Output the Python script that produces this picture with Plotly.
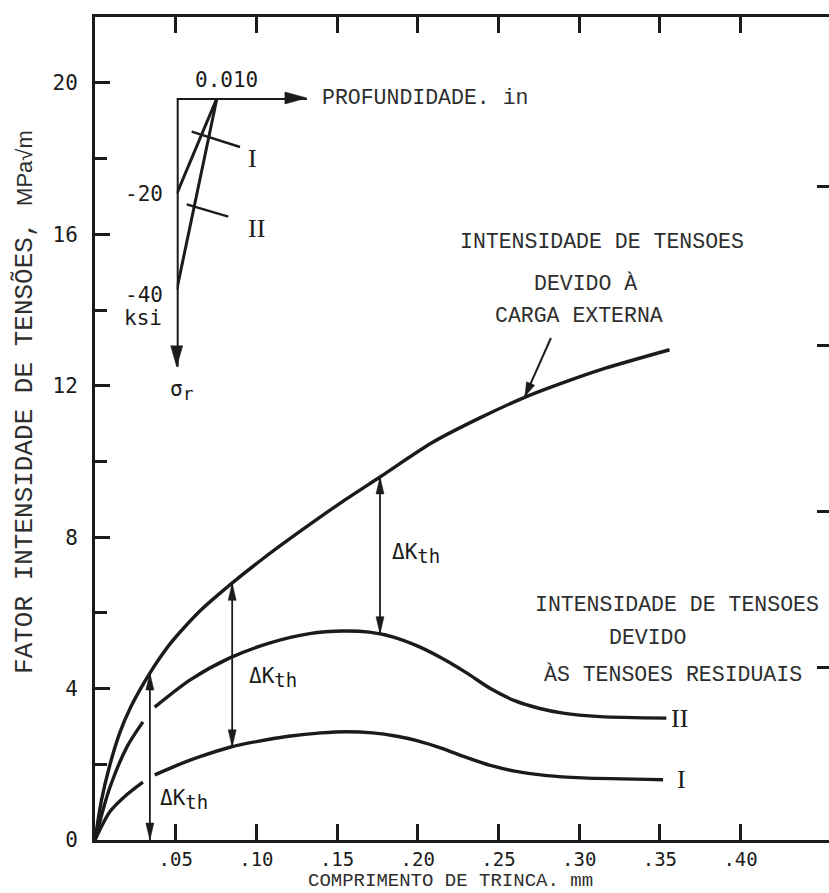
import plotly.graph_objects as go

# ---------------- data ----------------
# K due to the external load vs crack length (mm)
ext_x = [0, 0.004, 0.009, 0.0155, 0.022, 0.028, 0.034, 0.040, 0.0465, 0.055, 0.065, 0.0836,
         0.104, 0.127, 0.152, 0.1766, 0.209, 0.2385, 0.2677, 0.288, 0.313, 0.356]
ext_k = [0, 1.05, 1.95, 2.85, 3.5, 3.98, 4.41, 4.8, 5.18, 5.6, 6.05, 6.74,
         7.43, 8.15, 8.9, 9.59, 10.5, 11.15, 11.72, 12.05, 12.42, 12.95]

# K due to residual stresses, profile II (gap where the dimension arrow crosses)
res2_x = [0, 0.005, 0.0093, 0.0198, 0.0297, None, 0.037, 0.059, 0.0836, 0.108, 0.133,
          0.154, 0.17, 0.185, 0.2, 0.215, 0.23, 0.245, 0.26, 0.275, 0.29, 0.313, 0.354]
res2_k = [0, 0.8, 1.4, 2.46, 3.12, None, 3.51, 4.23, 4.81, 5.2, 5.45,
          5.52, 5.49, 5.36, 5.12, 4.8, 4.42, 4.0, 3.68, 3.48, 3.35, 3.26, 3.22]

# K due to residual stresses, profile I
res1_x = [0, 0.0093, 0.0198, 0.0297, None, 0.037, 0.05, 0.065, 0.0836, 0.1, 0.12, 0.14,
          0.156, 0.172, 0.187, 0.2, 0.215, 0.23, 0.245, 0.26, 0.28, 0.302, 0.352]
res1_k = [0, 0.75, 1.2, 1.53, None, 1.72, 1.96, 2.2, 2.45, 2.6, 2.74, 2.83,
          2.86, 2.83, 2.74, 2.62, 2.42, 2.18, 1.97, 1.82, 1.7, 1.64, 1.59]

# Delta K_th dimension arrows
dk_x = [0.034, 0.085, 0.1766]
dk_upper = [4.41, 6.78, 9.59]
dk_lower = [0.0, 2.46, 5.45]
dk_label_x = [0.039, 0.094, 0.1828]
dk_label_y = [1.06, 4.3, 7.58]

# inset: residual stress profiles (depth in inches, sigma_r in ksi)
depth_in = [0.0, 0.010]
sigma_I = [-20, 0]
sigma_II = [-40, 0]
inset_depth_end = 0.0323
inset_sigma_end = -56.0

# axis ticks
x_ticks = [0.05, 0.10, 0.15, 0.20, 0.25, 0.30, 0.35, 0.40]
x_ticktext = [".05", ".10", ".15", ".20", ".25", ".30", ".35", ".40"]
y_right_ticks = [4.57, 8.67, 13.05, 17.25]

# text
ext_lines = ["INTENSIDADE DE TENSOES", "DEVIDO À", "CARGA EXTERNA"]
ext_lines_x = [0.3141, 0.3042, 0.2998]
ext_lines_y = [15.80, 14.71, 13.84]
res_lines = ["INTENSIDADE DE TENSOES", "DEVIDO", "ÀS TENSOES RESIDUAIS"]
res_lines_x = [0.3606, 0.3426, 0.3581]
res_lines_y = [6.21, 5.34, 4.36]
ext_pointer = dict(tail=(0.2825, 13.26), tip=(0.2664, 11.72))

# ---------------- geometry ----------------
W, H = 829, 893
L, R, T, B = 95, 0, 17, 53
PW, PH = W - L - R, H - T - B
X_RANGE = [0, 0.4548]
Y_RANGE = [0, 21.74]
SX = PW / (X_RANGE[1] - X_RANGE[0])
SY = PH / (Y_RANGE[1] - Y_RANGE[0])

# inset axes placement (pixels) and scale
IN_X0, IN_X1 = 176.7, 330.0
IN_Y0, IN_Y1 = 98.0, 380.0
ISX = 4030.0      # px per inch
ISY = 4.8         # px per ksi
IN_D_RANGE = [0, (IN_X1 - IN_X0) / ISX]
IN_S_RANGE = [-(IN_Y1 - IN_Y0) / ISY, 0]

INK = "#1b1b1b"
TXT = "#2e2e2e"
MONO = "Liberation Mono"
TICKF = "DejaVu Sans Mono"
SERIF = "Liberation Serif"


def main_px(x, y):
    return L + (x - X_RANGE[0]) * SX, T + (Y_RANGE[1] - y) * SY


def inset_px(d, s):
    return IN_X0 + (d - IN_D_RANGE[0]) * ISX, IN_Y0 + (IN_S_RANGE[1] - s) * ISY


def to_paper(px, py):
    return (px - L) / PW, (T + PH - py) / PH


def head_shape(tip_px, from_px, length, half):
    tx, ty = tip_px
    fx, fy = from_px
    dx, dy = tx - fx, ty - fy
    n = (dx * dx + dy * dy) ** 0.5
    ux, uy = dx / n, dy / n
    bx, by = tx - ux * length, ty - uy * length
    pts = [(tx, ty), (bx - uy * half, by + ux * half), (bx + uy * half, by - ux * half)]
    pp = [to_paper(*p) for p in pts]
    path = "M{},{} L{},{} L{},{} Z".format(pp[0][0], pp[0][1], pp[1][0], pp[1][1], pp[2][0], pp[2][1])
    return dict(type="path", path=path, xref="paper", yref="paper",
                fillcolor=INK, line=dict(color=INK, width=0.5))


fig = go.Figure()

curve_style = dict(mode="lines", line=dict(color=INK, width=3.4, shape="spline", smoothing=0.8),
                   hoverinfo="skip", showlegend=False)
fig.add_trace(go.Scatter(x=ext_x, y=ext_k, **curve_style))
fig.add_trace(go.Scatter(x=res2_x, y=res2_k, **curve_style))
fig.add_trace(go.Scatter(x=res1_x, y=res1_k, **curve_style))

# placeholder so the right-hand tick axis is drawn
fig.add_trace(go.Scatter(x=[None], y=[None], yaxis="y2", showlegend=False, hoverinfo="skip"))

# inset stress profiles
fig.add_trace(go.Scatter(x=depth_in, y=sigma_I, xaxis="x3", yaxis="y3", mode="lines",
                         line=dict(color=INK, width=3), showlegend=False, hoverinfo="skip"))
fig.add_trace(go.Scatter(x=depth_in, y=sigma_II, xaxis="x3", yaxis="y3", mode="lines",
                         line=dict(color=INK, width=3), showlegend=False, hoverinfo="skip"))

shapes = []
annotations = []

# Delta K_th dimension arrows
for x, yu, yl in zip(dk_x, dk_upper, dk_lower):
    shapes.append(dict(type="line", xref="x", yref="y", x0=x, x1=x, y0=yl, y1=yu,
                       line=dict(color=INK, width=1.8)))
    top = main_px(x, yu)
    bot = main_px(x, yl)
    shapes.append(head_shape(top, bot, 17, 4))
    shapes.append(head_shape(bot, top, 17, 4))

for x, y in zip(dk_label_x, dk_label_y):
    annotations.append(dict(x=x, y=y, xref="x", yref="y", xanchor="left", yanchor="middle",
                            showarrow=False,
                            text="ΔK<sub><span style='font-size:19px'>th</span></sub>",
                            font=dict(family=TICKF, size=21, color=INK)))

# pointer to the external-load curve
tail = ext_pointer["tail"]
tip = ext_pointer["tip"]
shapes.append(dict(type="line", xref="x", yref="y", x0=tail[0], y0=tail[1], x1=tip[0], y1=tip[1],
                   line=dict(color=INK, width=2)))
shapes.append(head_shape(main_px(*tip), main_px(*tail), 14, 4.5))

# inset axes (arrows)
shapes.append(dict(type="line", xref="x3", yref="y3", x0=0, y0=0, x1=inset_depth_end, y1=0,
                   line=dict(color=INK, width=4)))
shapes.append(dict(type="line", xref="x3", yref="y3", x0=0, y0=0, x1=0, y1=inset_sigma_end,
                   line=dict(color=INK, width=4)))
shapes.append(head_shape(inset_px(inset_depth_end, 0), inset_px(0, 0), 22, 6))
shapes.append(head_shape(inset_px(0, inset_sigma_end), inset_px(0, 0), 21, 6))

# inset leader lines for I and II
shapes.append(dict(type="line", xref="x3", yref="y3", x0=0.00372, y0=-7.02, x1=0.01571, y1=-10.21,
                   line=dict(color=INK, width=2.4)))
shapes.append(dict(type="line", xref="x3", yref="y3", x0=0.00248, y0=-22.15, x1=0.0128, y1=-24.73,
                   line=dict(color=INK, width=2.4)))

tick_font = dict(family=TICKF, size=21, color=INK)
mono_font = dict(family=MONO, size=21.5, color=TXT)
serif_font = dict(family=SERIF, size=26, color=INK)

# inset text
annotations += [
    dict(x=depth_in[1], y=0, xref="x3", yref="y3", text="0.010", showarrow=False,
         xanchor="center", yanchor="middle", xshift=9, yshift=18, font=tick_font),
    dict(x=0, y=sigma_I[0], xref="x3", yref="y3", text="-20", showarrow=False,
         xanchor="right", yanchor="middle", xshift=-12, font=tick_font),
    dict(x=0, y=sigma_II[0], xref="x3", yref="y3", text="-40", showarrow=False,
         xanchor="right", yanchor="middle", xshift=-12, yshift=-5, font=tick_font),
    dict(x=0, y=sigma_II[0], xref="x3", yref="y3", text="ksi", showarrow=False,
         xanchor="right", yanchor="middle", xshift=-13, yshift=-28, font=tick_font),
    dict(x=0, y=inset_sigma_end, xref="x3", yref="y3",
         text="σ<sub><span style='font-size:18px'>r</span></sub>", showarrow=False,
         xanchor="center", yanchor="middle", xshift=5, yshift=-24, font=tick_font),
    dict(x=0.01893, y=-12.5, xref="x3", yref="y3", text="I", showarrow=False,
         xanchor="center", yanchor="middle", font=serif_font),
    dict(x=0.01968, y=-27.1, xref="x3", yref="y3", text="II", showarrow=False,
         xanchor="center", yanchor="middle", font=serif_font),
    dict(x=0.03556, y=0, xref="x3", yref="y3", text="PROFUNDIDADE. in", showarrow=False,
         xanchor="left", yanchor="middle", font=mono_font),
]

# curve captions
for t, x, y in zip(ext_lines, ext_lines_x, ext_lines_y):
    annotations.append(dict(x=x, y=y, xref="x", yref="y", text=t, showarrow=False,
                            xanchor="center", yanchor="middle", font=mono_font))
for t, x, y in zip(res_lines, res_lines_x, res_lines_y):
    annotations.append(dict(x=x, y=y, xref="x", yref="y", text=t, showarrow=False,
                            xanchor="center", yanchor="middle", font=mono_font))

annotations.append(dict(x=res2_x[-1], y=res2_k[-1], xref="x", yref="y", text="II", showarrow=False,
                        xanchor="left", yanchor="middle", xshift=3, font=serif_font))
annotations.append(dict(x=res1_x[-1], y=res1_k[-1], xref="x", yref="y", text="I", showarrow=False,
                        xanchor="left", yanchor="middle", xshift=12, font=serif_font))

# axis titles
annotations.append(dict(x=0.4837, y=0, xref="paper", yref="paper", yshift=-53,
                        text="COMPRIMENTO DE TRINCA. mm", showarrow=False, borderpad=0,
                        xanchor="center", yanchor="bottom", font=dict(family=MONO, size=19, color=TXT)))
annotations.append(dict(x=-0.0954, y=0.5322, xref="paper", yref="paper", textangle=-90,
                        text="FATOR INTENSIDADE DE TENSÕES, "
                             "<span style='font-family:Liberation Sans;font-size:22px'>MPa√m</span>",
                        showarrow=False, xanchor="center", yanchor="middle",
                        font=dict(family=MONO, size=26, color=TXT)))

fig.update_layout(
    width=W, height=H,
    margin=dict(l=L, r=R, t=T, b=B, pad=0),
    paper_bgcolor="white", plot_bgcolor="white",
    showlegend=False,
    xaxis=dict(range=X_RANGE, tickvals=x_ticks, ticktext=x_ticktext,
               ticks="inside", ticklen=16, tickwidth=3, tickcolor=INK,
               showline=True, linewidth=3, linecolor=INK, mirror="ticks",
               showgrid=False, zeroline=False, tickfont=dict(family=TICKF, size=19, color=INK),
               ticklabelstandoff=0),
    yaxis=dict(range=Y_RANGE, tick0=0, dtick=4,
               ticks="inside", ticklen=15, tickwidth=3, tickcolor=INK,
               minor=dict(dtick=2, tick0=0, ticks="inside", ticklen=12, tickwidth=3, tickcolor=INK),
               showline=True, linewidth=3, linecolor=INK,
               showgrid=False, zeroline=False, tickfont=tick_font, ticklabelstandoff=10),
    yaxis2=dict(range=Y_RANGE, overlaying="y", side="right", anchor="x",
                tickvals=y_right_ticks, ticks="inside", ticklen=12, tickwidth=3, tickcolor=INK,
                showticklabels=False, showline=False, showgrid=False, zeroline=False),
    xaxis3=dict(domain=[to_paper(IN_X0, 0)[0], to_paper(IN_X1, 0)[0]], range=IN_D_RANGE,
                anchor="y3", visible=False),
    yaxis3=dict(domain=[to_paper(0, IN_Y1)[1], to_paper(0, IN_Y0)[1]], range=IN_S_RANGE,
                anchor="x3", visible=False),
    shapes=shapes,
    annotations=annotations,
)

fig.write_html("out.html")
